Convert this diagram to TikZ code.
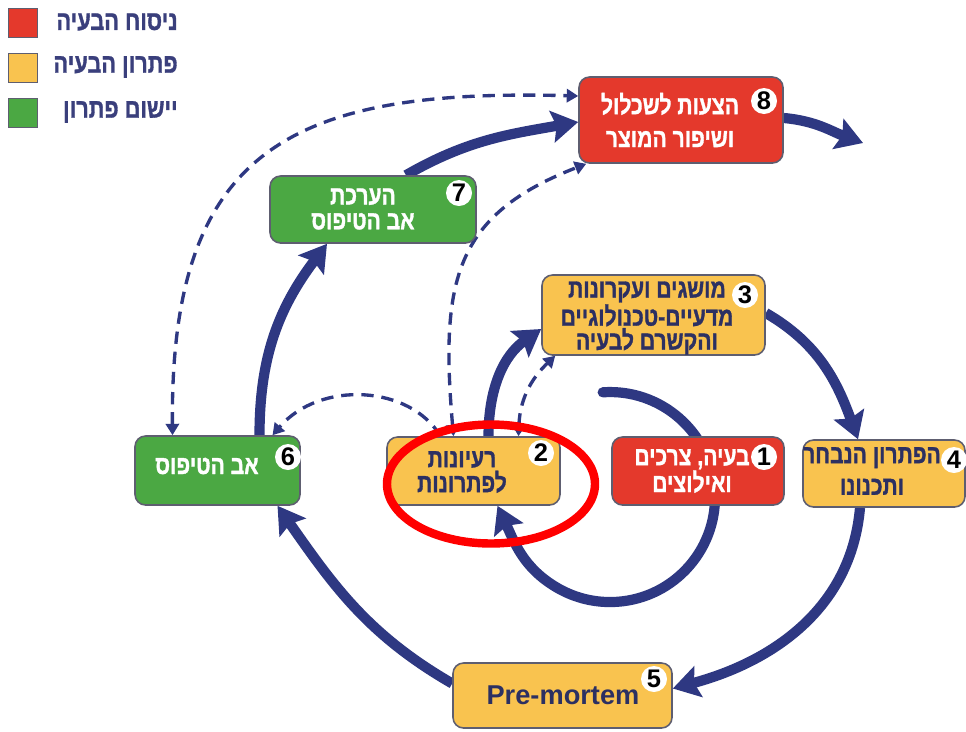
\documentclass[tikz,border=0pt]{standalone}
\usepackage{fontspec}
\setmainfont{Liberation Sans}
\newfontfamily\hebfont[Script=Hebrew,FakeStretch=0.8,FakeBold=1.2]{Liberation Sans}
\TeXXeTstate=1
\usetikzlibrary{arrows.meta,calc}
\pgfdeclarelayer{links}
\pgfsetlayers{links,main}
\newcommand\heb[1]{\beginR#1\endR}
\newdimen\pxu
\pxu=0.02cm

\definecolor{navy}{HTML}{2E3882}
\definecolor{boxred}{HTML}{E4392C}
\definecolor{boxyellow}{HTML}{F9C34F}
\definecolor{boxgreen}{HTML}{4BA843}
\definecolor{rim}{HTML}{5E5E70}
\definecolor{inkdark}{HTML}{2C3062}
\definecolor{legendink}{HTML}{3A3F7C}
\definecolor{ringred}{HTML}{FF0000}

\begin{document}
\begin{tikzpicture}[x=0.02cm,y=0.02cm,
  stage/.style={draw=rim, line width=0.9pt, rounded corners=6pt, inner sep=0pt},
  caption/.style={align=center, inner sep=0pt,
    font=\hebfont\bfseries\fontsize{15}{#1}\selectfont},
  lightcap/.style={caption=#1, text=white},
  darkcap/.style={caption=#1, text=inkdark},
  badge/.style={circle, fill=white, inner sep=0pt, minimum size=26\pxu,
    font=\bfseries\fontsize{14.5}{14.5}\selectfont, text=black},
  swatch/.style={draw=rim, line width=0.6pt, minimum width=29\pxu, minimum height=29\pxu, inner sep=0pt},
  legendtext/.style={anchor=east, inner sep=0pt, text=legendink,
    font=\hebfont\bfseries\fontsize{15.5}{17}\selectfont},
  flow/.style={draw=navy, line width=5.8pt, -{Stealth[length=15pt,width=18pt,inset=2.5pt]}},
  link/.style={draw=navy, line width=1.9pt, dash pattern=on 7pt off 4.5pt,
    {Triangle[length=6.5pt,width=7.5pt]}-{Triangle[length=6.5pt,width=7.5pt]}},
  onelink/.style={link, -{Triangle[length=6.5pt,width=7.5pt]}},
  ring/.style={draw=ringred, line width=4.8pt}
]
\useasboundingbox (0,0) rectangle (966,-731);

% legend
\node[swatch, fill=boxred] (s1) at (23,-23) {};
\node[swatch, fill=boxyellow] (s2) at (23,-68) {};
\node[swatch, fill=boxgreen] (s3) at (23,-113) {};
\node[legendtext] (l1) at (178,-22) {\heb{ניסוח הבעיה}};
\node[legendtext] (l2) at (178,-67) {\heb{פתרון הבעיה}};
\node[legendtext] (l3) at (178,-112) {\heb{יישום פתרון}};

% stage boxes
\node[stage, fill=boxred, minimum width=204\pxu, minimum height=86\pxu] (b8) at (681,-120) {};
\node[stage, fill=boxgreen, minimum width=206\pxu, minimum height=67\pxu] (b7) at (373,-209.5) {};
\node[stage, fill=boxyellow, minimum width=223\pxu, minimum height=80\pxu] (b3) at (653.5,-315) {};
\node[stage, fill=boxgreen, minimum width=165\pxu, minimum height=69\pxu] (b6) at (217.5,-470.5) {};
\node[stage, fill=boxyellow, minimum width=173\pxu, minimum height=68\pxu] (b2) at (473.5,-471) {};
\node[stage, fill=boxred, minimum width=172\pxu, minimum height=68\pxu] (b1) at (698,-471) {};
\node[stage, fill=boxyellow, minimum width=162\pxu, minimum height=67\pxu] (b4) at (884,-473.5) {};
\node[stage, fill=boxyellow, minimum width=219\pxu, minimum height=65\pxu] (b5) at (562.5,-695.5) {};

% box captions
\node[lightcap=18.7pt] (t8) at (670,-120) {\heb{הצעות לשכלול}\\\heb{ושיפור המוצר}};
\node[lightcap=14.2pt] (t7) at (363,-209) {\heb{הערכת}\\\heb{אב הטיפוס}};
\node[darkcap=13.6pt] (t3) at (647,-318) {\heb{מושגים ועקרונות}\\\heb{מדעיים-טכנולוגיים}\\\heb{והקשרם לבעיה}};
\node[lightcap=14pt] (t6) at (207,-466) {\heb{אב הטיפוס}};
\node[darkcap=14.2pt] (t2) at (462,-472) {\heb{רעיונות}\\\heb{לפתרונות}};
\node[lightcap=15.3pt] (t1) at (692,-471) {\heb{בעיה, צרכים}\\\heb{ואילוצים}};
\node[darkcap=18pt] (t4) at (872,-471) {\heb{הפתרון הנבחר}\\\heb{ותכנונו}};
\node[inner sep=0pt, text=inkdark, font=\bfseries\fontsize{15.5}{16}\selectfont] (t5) at (563,-695) {Pre-mortem};

% step numbers
\node[badge] (n8) at (764,-101) {8};
\node[badge] (n7) at (459,-193) {7};
\node[badge] (n3) at (745,-295) {3};
\node[badge] (n6) at (288,-457) {6};
\node[badge] (n2) at (541,-453) {2};
\node[badge] (n1) at (764,-457) {1};
\node[badge] (n4) at (954,-460) {4};
\node[badge] (n5) at (654,-679) {5};

\coordinate (spiralstart) at (602.7,-392.3);
\coordinate (exit) at (863,-143);

\begin{pgfonlayer}{links}
  \fill[white] (0,0) rectangle (966,-731);
  % main cycle
  \draw[flow, line cap=round] (spiralstart) arc[start angle=94, end angle=-120, radius=105]
    to[out=150, in=-65] ($(b2.south)+(24,0)$);
  \draw[flow] ($(b2.north)+(15,0)$) to[out=90, in=215] ($(b3.west)+(0,-14)$);
  \draw[flow] ($(b3.east)+(0,2)$) to[out=-30, in=110] ($(b4.north)+(-26,0)$);
  \draw[flow] ($(b4.south)+(-24,0)$) to[out=-95, in=15] ($(b5.east)+(0,7)$);
  \draw[flow] ($(b5.west)+(0,12)$) to[out=150, in=-55] ($(b6.south)+(60,0)$);
  \draw[flow] ($(b6.north)+(42,0)$) to[out=90, in=233] ($(b7.south)+(-46,0)$);
  \draw[flow] ($(b7.north)+(33,0)$) to[out=30, in=190] ($(b8.west)+(0,-2)$);
  \draw[flow] ($(b8.east)+(0,2)$) to[out=-5, in=160] (exit);

  % feedback links
  \draw[link] ($(b6.north)+(-45,0)$) .. controls (170,-150) and (290,-88) .. ($(b8.west)+(0,24)$);
  \draw[link] ($(b2.north)+(-20,0)$) .. controls (440,-280) and (455,-215) .. ($(b8.south west)+(8,0)$);
  \draw[onelink] ($(b2.north)+(-33,0)$) .. controls (410,-385) and (320,-380) .. ($(b6.north)+(55,0)$);
  \draw[link] ($(b2.north)+(45,0)$) .. controls (520,-395) and (535,-375) .. ($(b3.south west)+(14,0)$);
\end{pgfonlayer}

% highlight around step 2
\draw[ring] (491,-484) ellipse [x radius=104, y radius=59.5];
\end{tikzpicture}
\end{document}
